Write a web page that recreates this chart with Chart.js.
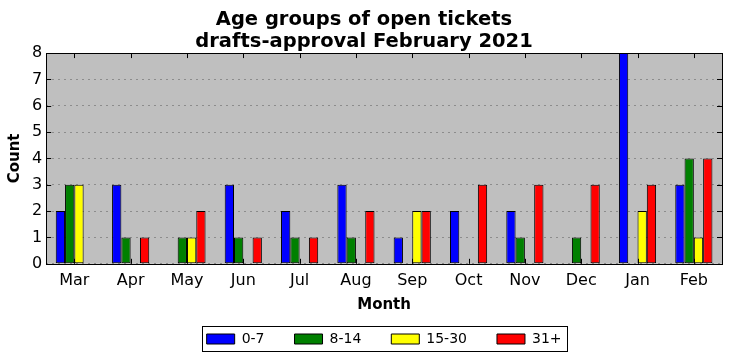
<!DOCTYPE html>
<html>
<head>
<meta charset="utf-8">
<script src="https://cdn.jsdelivr.net/npm/chart.js@4"></script>
<style>
  html, body { margin: 0; padding: 0; background: #fff; }
  #wrap { width: 732px; height: 361px; }
</style>
</head>
<body>
<div id="wrap"><canvas id="myChart" width="732" height="361"></canvas></div>
<script>
// The data
var months = ['Mar', 'Apr', 'May', 'Jun', 'Jul', 'Aug', 'Sep', 'Oct', 'Nov', 'Dec', 'Jan', 'Feb'];
var age0to7 = [2, 3, 0, 3, 2, 3, 1, 2, 2, 0, 8, 3];
var age8to14 = [3, 1, 1, 1, 1, 1, 0, 0, 1, 1, 0, 4];
var age15to30 = [3, 0, 1, 0, 0, 0, 2, 0, 0, 0, 2, 1];
var age31plus = [0, 1, 2, 1, 1, 2, 2, 3, 3, 3, 3, 4];
var countTicks = [0, 1, 2, 3, 4, 5, 6, 7, 8];

Chart.defaults.font.family = "'DejaVu Sans', sans-serif";
Chart.defaults.color = '#000';

// grey plot background, black frame, inward tick marks, box round the legend
var frame = {
    id: 'frame',
    beforeDraw: function (chart) {
        var c = chart.ctx, a = chart.chartArea;
        c.save();
        c.fillStyle = '#bfbfbf';
        c.fillRect(a.left, a.top, a.right - a.left, a.bottom - a.top);
        c.restore();
    },
    afterDraw: function (chart) {
        var c = chart.ctx, a = chart.chartArea;
        c.save();
        c.strokeStyle = '#000';
        c.lineWidth = 1;
        c.beginPath();
        chart.scales.y.ticks.forEach(function (t) {
            var y = Math.round(chart.scales.y.getPixelForValue(t.value)) + 0.5;
            c.moveTo(a.left, y); c.lineTo(a.left + 5, y);
            c.moveTo(a.right, y); c.lineTo(a.right - 5, y);
        });
        chart.scales.x.ticks.forEach(function (t, i) {
            var x = Math.round(chart.scales.x.getPixelForTick(i)) + 0.5;
            c.moveTo(x, a.top); c.lineTo(x, a.top + 5);
            c.moveTo(x, a.bottom); c.lineTo(x, a.bottom - 5);
        });
        c.stroke();
        c.strokeRect(Math.round(a.left) + 0.5, Math.round(a.top) + 0.5,
            Math.round(a.right - a.left), Math.round(a.bottom - a.top));

        var boxes = chart.legend.legendHitBoxes;
        if (boxes && boxes.length) {
            var l = boxes[0].left, r = boxes[boxes.length - 1].left + boxes[boxes.length - 1].width;
            var t = boxes[0].top, h = boxes[0].height;
            c.strokeRect(Math.round(l - 5) + 0.5, Math.round(t - 6) + 0.5,
                Math.round(r - l + 10), Math.round(h + 11));
        }
        c.restore();
    }
};

var ctx = document.getElementById('myChart').getContext('2d');
var chart = new Chart(ctx, {
    type: 'bar',
    data: {
        labels: months,
        datasets: [
            { label: '0-7', data: age0to7, backgroundColor: '#0000ff' },
            { label: '8-14', data: age8to14, backgroundColor: '#008000' },
            { label: '15-30', data: age15to30, backgroundColor: '#ffff00' },
            { label: '31+', data: age31plus, backgroundColor: '#ff0000' }
        ]
    },
    options: {
        responsive: false,
        animation: false,
        layout: { padding: { left: 6, right: 10, bottom: 5 } },
        datasets: {
            bar: {
                borderColor: '#000',
                borderWidth: 1,
                borderSkipped: false,
                categoryPercentage: 0.66,
                barPercentage: 1
            }
        },
        scales: {
            x: {
                grid: { display: false, drawTicks: false },
                border: { display: false },
                ticks: { font: { size: 16 }, padding: 7 },
                title: { display: true, text: 'Month', font: { size: 15, weight: 'bold' }, padding: { top: -1, bottom: -12 } }
            },
            y: {
                min: 0,
                max: 8,
                afterBuildTicks: function (scale) {
                    scale.ticks = countTicks.map(function (v) { return { value: v }; });
                },
                grid: { color: '#8c8c8c', lineWidth: 1, drawTicks: false },
                border: { display: false, dash: [2, 4] },
                ticks: { font: { size: 16 }, padding: 4 },
                title: { display: true, text: 'Count', font: { size: 15, weight: 'bold' }, padding: { top: 0, bottom: 4 } }
            }
        },
        plugins: {
            title: {
                display: true,
                text: ['Age groups of open tickets', 'drafts-approval February 2021'],
                font: { size: 19.5, weight: 'bold', lineHeight: 1.13 },
                color: '#000',
                padding: { top: 9, bottom: 0 }
            },
            legend: {
                position: 'bottom',
                fullSize: false,
                labels: {
                    boxWidth: 28,
                    boxHeight: 10,
                    padding: 30,
                    font: { size: 14 },
                    color: '#000'
                }
            },
            tooltip: { enabled: false }
        }
    },
    plugins: [frame]
});
</script>
</body>
</html>
